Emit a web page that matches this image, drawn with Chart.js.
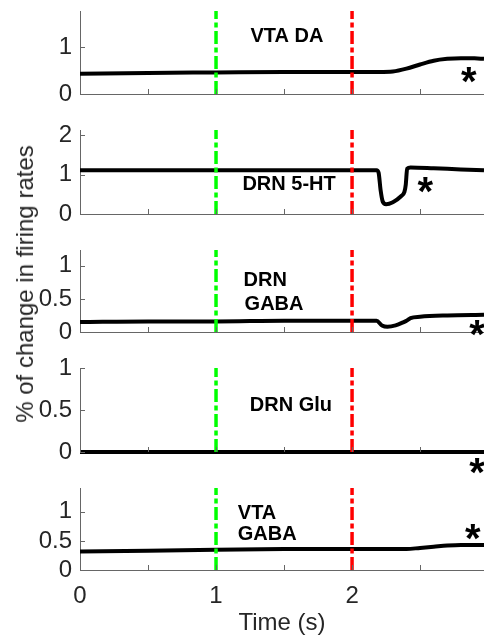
<!DOCTYPE html>
<html><head><meta charset="utf-8">
<script src="https://cdn.jsdelivr.net/npm/chart.js@4.4.1/dist/chart.umd.min.js"></script>
<style>
html,body{margin:0;padding:0;background:#fff;}
#wrap{position:relative;width:484px;height:635px;overflow:hidden;background:#fff;}
#wrap canvas{position:absolute;left:0;}
#ytitle{position:absolute;left:25px;top:284px;transform:translate(-50%,-50%) rotate(-90deg);
  font:24px "Liberation Sans",Arial,sans-serif;line-height:1;color:#262626;white-space:nowrap;}
</style></head><body>
<div id="wrap">
  <canvas id="c1"></canvas>
  <canvas id="c2"></canvas>
  <canvas id="c3"></canvas>
  <canvas id="c4"></canvas>
  <canvas id="c5"></canvas>
  <div id="ytitle">% of change in firing rates</div>
</div>
<script>
// ---------------- data ----------------
const timeVtaDa  = [0, 0.5, 1, 1.5, 2, 2.2, 2.3, 2.4, 2.5, 2.6, 2.7, 2.8, 2.9, 2.97];
const rateVtaDa  = [0.43, 0.45, 0.46, 0.47, 0.47, 0.47, 0.48, 0.54, 0.63, 0.71, 0.75, 0.765, 0.76, 0.75];

const timeDrn5ht = [0, 0.5, 1, 1.5, 2, 2.18, 2.195, 2.21, 2.225, 2.25, 2.3, 2.36, 2.385, 2.395, 2.405, 2.43, 2.6, 2.8, 2.97];
const rateDrn5ht = [1.11, 1.11, 1.11, 1.11, 1.11, 1.11, 1.05, 0.6, 0.32, 0.25, 0.3, 0.45, 0.56, 0.75, 1.15, 1.18, 1.16, 1.13, 1.11];

const timeDrnGaba = [0, 0.5, 1, 1.5, 2, 2.18, 2.22, 2.26, 2.32, 2.38, 2.40, 2.43, 2.5, 2.7, 2.97];
const rateDrnGaba = [0.15, 0.16, 0.16, 0.17, 0.17, 0.17, 0.10, 0.08, 0.10, 0.15, 0.17, 0.21, 0.23, 0.25, 0.26];

const timeDrnGlu = [0, 1, 2, 2.97];
const rateDrnGlu = [0, 0, 0, 0];

const timeVtaGaba = [0, 0.5, 1, 1.5, 2, 2.4, 2.5, 2.6, 2.7, 2.8, 2.97];
const rateVtaGaba = [0.32, 0.33, 0.35, 0.36, 0.36, 0.36, 0.38, 0.40, 0.42, 0.43, 0.43];

const eventTimes   = [1, 2];            // green, red dash-dot markers
const xTickLabels  = [0, 1, 2];
const xMinorTicks  = [0, 0.5, 1, 1.5, 2, 2.5];
const timeAxisMax  = 2.97;
const yMaxes       = [1.77, 2.13, 1.24, 1, 1.41];
const ySteps       = [1, 1, 0.5, 0.5, 0.5];
const panelNames   = [["VTA DA"], ["DRN 5-HT"], ["DRN", "GABA"], ["DRN Glu"], ["VTA", "GABA"]];

// ---------------- layout / style ----------------
const FONT = '"Liberation Sans", Arial, sans-serif';
const AXIS = '#666666';
const TXT = '#262626';
const eventColors = ['#00ff00', '#ff0000'];

const panels = [
  {id:'c1', top:0,   areaTop:11,  areaBot:94,  t:timeVtaDa,  r:rateVtaDa,
   labels:[{x:1.52, y:1.26, align:'center'}], star:{x:2.86, y:0.40}},
  {id:'c2', top:119, areaTop:130, areaBot:214, t:timeDrn5ht, r:rateDrn5ht,
   labels:[{x:1.54, y:0.78, align:'center'}], star:{x:2.54, y:0.73}},
  {id:'c3', top:239, areaTop:250, areaBot:332, t:timeDrnGaba, r:rateDrnGaba,
   labels:[{x:1.21, y:0.80, align:'left'},{x:1.21, y:0.44, align:'left'}], star:{x:2.92, y:0.06}},
  {id:'c4', top:357, areaTop:368, areaBot:452, t:timeDrnGlu, r:rateDrnGlu,
   labels:[{x:1.55, y:0.58, align:'center'}], star:{x:2.92, y:-0.17}},
  {id:'c5', top:477, areaTop:488, areaBot:570, t:timeVtaGaba, r:rateVtaGaba,
   labels:[{x:1.16, y:1.00, align:'left'},{x:1.16, y:0.63, align:'left'}], star:{x:2.89, y:0.65}, bottomAxis:true}
];

function drawInk(ctx, text, font, cx, cy, align) {
  ctx.font = font;
  ctx.textAlign = 'left';
  ctx.textBaseline = 'alphabetic';
  const m = ctx.measureText(text);
  const L = m.actualBoundingBoxLeft, R = m.actualBoundingBoxRight;
  const A = m.actualBoundingBoxAscent, D = m.actualBoundingBoxDescent;
  const x = align === 'left' ? cx + L : cx - (R - L) / 2;
  const y = cy + (A - D) / 2;
  ctx.fillText(text, x, y);
}

const overlay = {
  id: 'overlay',
  afterDraw(chart, args, o) {
    const {ctx} = chart;
    const x = chart.scales.x, y = chart.scales.y;
    ctx.save();
    ctx.strokeStyle = AXIS; ctx.lineWidth = 1;
    ctx.beginPath();
    y.ticks.forEach(t => {
      const py = Math.round(y.getPixelForValue(t.value)) + 0.5;
      ctx.moveTo(x.left, py); ctx.lineTo(x.left + 5, py);
    });
    xMinorTicks.forEach(v => {
      const px = Math.round(x.getPixelForValue(v)) + 0.5;
      ctx.moveTo(px, y.bottom); ctx.lineTo(px, y.bottom - 5);
    });
    ctx.stroke();
    ctx.fillStyle = '#000';
    o.names.forEach((txt, i) => {
      const l = o.labels[i];
      drawInk(ctx, txt, 'bold 20px ' + FONT, x.getPixelForValue(l.x), y.getPixelForValue(l.y), l.align);
    });
    drawInk(ctx, '*', 'bold 40px ' + FONT, x.getPixelForValue(o.star.x), y.getPixelForValue(o.star.y), 'center');
    ctx.restore();
  }
};

const fmt = v => String(Number(v.toFixed(2)));

panels.forEach((p, k) => {
  const cv = document.getElementById(p.id);
  const canvasH = k === 4 ? 635 - p.top : 118;
  const xAxisH = p.bottomAxis ? 65 : 0;
  const areaH = p.areaBot - p.areaTop;
  const padTop = p.areaTop - p.top;
  const padBottom = canvasH - padTop - areaH - xAxisH;
  cv.width = 484; cv.height = canvasH;
  cv.style.width = '484px'; cv.style.height = canvasH + 'px';
  cv.style.top = p.top + 'px';

  const ymax = yMaxes[k];
  const datasets = eventTimes.map((t, i) => ({
    data: [{x: t, y: 0}, {x: t, y: ymax}],
    borderColor: eventColors[i], borderWidth: 3.5,
    borderDash: [13, 3.5, 5, 3.5], pointRadius: 0, tension: 0, fill: false
  }));
  datasets.push({
    data: p.t.map((t, i) => ({x: t, y: p.r[i]})),
    borderColor: '#000', borderWidth: 4, pointRadius: 0,
    cubicInterpolationMode: 'monotone', fill: false, clip: false,
    borderCapStyle: 'butt', borderJoinStyle: 'round'
  });

  new Chart(cv, {
    type: 'line',
    data: {datasets},
    options: {
      responsive: false, animation: false, devicePixelRatio: 1,
      layout: {padding: {top: padTop, bottom: padBottom, left: 0, right: 0}},
      plugins: {legend: {display: false}, tooltip: {enabled: false}, overlay: {names: panelNames[k], labels: p.labels, star: p.star}},
      scales: {
        x: {
          type: 'linear', min: 0, max: timeAxisMax,
          grid: {display: false, drawTicks: false},
          border: {display: true, color: AXIS, width: 1},
          ticks: {
            display: !!p.bottomAxis, stepSize: 0.5, includeBounds: false, autoSkip: false,
            maxRotation: 0, padding: 12, color: TXT, font: {family: FONT, size: 24},
            callback: v => xTickLabels.includes(v) ? String(v) : ''
          },
          title: {display: !!p.bottomAxis, text: 'Time (s)', color: TXT,
                  font: {family: FONT, size: 24, lineHeight: 1}, padding: {top: 0, bottom: 0}},
          afterFit: s => { s.height = xAxisH; s.paddingLeft = 0; s.paddingRight = 0; }
        },
        y: {
          type: 'linear', min: 0, max: ymax,
          grid: {display: false, drawTicks: false},
          border: {display: true, color: AXIS, width: 1},
          ticks: {stepSize: ySteps[k], includeBounds: false, padding: 8, color: TXT,
                  font: {family: FONT, size: 24}, callback: v => fmt(v)},
          afterFit: s => { s.width = 80; s.paddingTop = 0; s.paddingBottom = 0; }
        }
      }
    },
    plugins: [overlay]
  });
});
</script>
</body></html>
